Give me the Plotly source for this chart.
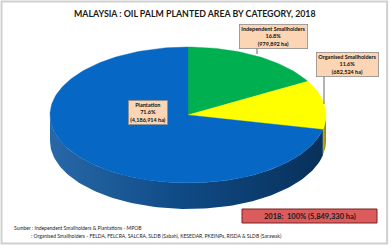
import math
import plotly.graph_objects as go

# ---- data ----
categories = ["Independent Smallholders", "Organised Smallholders", "Plantation"]
areas_ha = [979892, 682524, 4186914]
pct_labels = ["16.8%", "11.6%", "71.6%"]
area_labels = ["(979,892 ha)", "(682,524 ha)", "(4,186,914 ha)"]
total_label = "2018:  100% (5,849,330 ha)"
title_text = "MALAYSIA : OIL PALM PLANTED AREA BY CATEGORY, 2018"
source_lines = [
    "Sumber : Independent Smallholders & Plantations - MPOB",
    ": Organised Smallholders - FELDA, FELCRA, SALCRA, SLDB (Sabah), KESEDAR, PKEINPs, RISDA & SLDB (Sarawak)",
]

# ---- styles / layout ----
W, H = 391, 248
top_colors = ["#00B050", "#FFFF00", "#0767C4"]
side_scales = [
    [[0, "#007A38"], [1, "#005A28"]],
    [[0, "#B8B800"], [1, "#8A8A00"]],
    [[0, "#2868A8"], [0.45, "#104C88"], [1, "#08305A"]],
]
cx, cy, rx, ry, depth = 188, 115, 138, 68, 26
label_pos = [(273, 36), (347, 64), (148, 112)]
label_lines = [[(257, 47), (257, 54)], [(324, 75), (324, 104)], None]
FONT = "Lato"


def pt(deg, dy=0.0):
    t = math.radians(deg)
    return cx + rx * math.sin(t), cy - ry * math.cos(t) + dy


def arc(a0, a1, dy=0.0, n=None):
    n = n or max(4, int(abs(a1 - a0) / 1.5))
    xs, ys = [], []
    for i in range(n + 1):
        x, y = pt(a0 + (a1 - a0) * i / n, dy)
        xs.append(x)
        ys.append(y)
    return xs, ys


total = sum(areas_ha)
angles = []
acc = 0.0
for v in areas_ha:
    a0 = acc / total * 360
    acc += v
    a1 = acc / total * 360
    angles.append((a0, a1))

fig = go.Figure()

# side walls (front half only: 90..270 deg)
for (a0, a1), sc in zip(angles, side_scales):
    s0, s1 = max(a0, 90), min(a1, 270)
    if s1 <= s0:
        continue
    xt, yt = arc(s0, s1)
    xb, yb = arc(s1, s0, depth)
    fig.add_trace(go.Scatter(
        x=xt + xb + [xt[0]], y=yt + yb + [yt[0]], mode="lines",
        line=dict(width=0), fill="toself",
        fillgradient=dict(type="horizontal", colorscale=sc),
        hoverinfo="skip", showlegend=False))

# top faces
for (a0, a1), col in zip(angles, top_colors):
    xa, ya = arc(a0, a1)
    fig.add_trace(go.Scatter(
        x=[cx] + xa + [cx], y=[cy] + ya + [cy], mode="lines",
        line=dict(width=0.4, color=col), fill="toself", fillcolor=col,
        hoverinfo="skip", showlegend=False))

shapes = [
    dict(type="rect", xref="paper", yref="paper", x0=0.004, x1=0.99, y0=0.018, y1=0.994,
         line=dict(color="#D0D0D0", width=2), fillcolor="rgba(0,0,0,0)", layer="below"),
    dict(type="rect", xref="x", yref="y", x0=242, x1=377, y0=209, y1=223,
         line=dict(color="#7A2020", width=1), fillcolor="#DB5C5C"),
]
for seg in label_lines:
    if seg:
        shapes.append(dict(type="line", xref="x", yref="y", x0=seg[0][0], y0=seg[0][1],
                           x1=seg[1][0], y1=seg[1][1], line=dict(color="#404040", width=0.8)))

annotations = [
    dict(text="<b>" + title_text + "</b>", x=195, y=13, xref="x", yref="y",
         showarrow=False, font=dict(family=FONT, size=8.8, color="#1A1A1A")),
    dict(text="<b>" + total_label + "</b>", x=309.5, y=216, xref="x", yref="y",
         showarrow=False, font=dict(family=FONT, size=7.5, color="#1A1A1A")),
    dict(text=source_lines[0], x=12, y=228, xref="x", yref="y", xanchor="left",
         showarrow=False, font=dict(family=FONT, size=5, color="#222222")),
    dict(text=source_lines[1], x=29, y=236, xref="x", yref="y", xanchor="left",
         showarrow=False, font=dict(family=FONT, size=5, color="#222222")),
]
for cat, p, a, (lx, ly) in zip(categories, pct_labels, area_labels, label_pos):
    annotations.append(dict(
        text="<b>" + cat + "<br>" + p + "<br>" + a + "</b>", x=lx, y=ly, xref="x", yref="y",
        showarrow=False, align="center", bgcolor="#FCD5B4", bordercolor="#8C8C8C",
        borderwidth=0.8, borderpad=1.5, font=dict(family=FONT, size=5.5, color="#111111")))

fig.update_layout(
    width=W, height=H, margin=dict(l=0, r=0, t=0, b=0),
    paper_bgcolor="white", plot_bgcolor="white",
    xaxis=dict(range=[0, W], visible=False, fixedrange=True),
    yaxis=dict(range=[H, 0], visible=False, fixedrange=True),
    shapes=shapes, annotations=annotations, showlegend=False,
)
fig.write_html("out.html")
